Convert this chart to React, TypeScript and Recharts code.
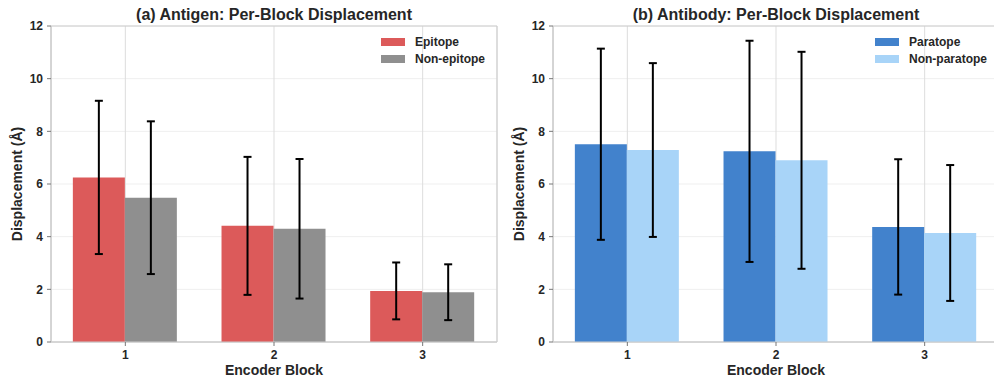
import React from "react";
import {
  BarChart,
  Bar,
  XAxis,
  YAxis,
  CartesianGrid,
  ErrorBar,
  Legend,
  ReferenceArea,
} from "recharts";

const blocks = ["1", "2", "3"];
const yTicks = [0, 2, 4, 6, 8, 10, 12];

const epitope = [6.25, 4.41, 1.94];
const epitopeErr = [2.91, 2.62, 1.08];
const nonEpitope = [5.48, 4.3, 1.89];
const nonEpitopeErr = [2.9, 2.65, 1.06];

const paratope = [7.51, 7.24, 4.37];
const paratopeErr = [3.63, 4.2, 2.57];
const nonParatope = [7.29, 6.9, 4.14];
const nonParatopeErr = [3.3, 4.12, 2.58];

const FONT = '"Liberation Sans", Arial, sans-serif';
const TEXT = "#262626";

type Series = { name: string; color: string; values: number[]; errs: number[] };

function buildRows(a: Series, b: Series) {
  return blocks.map((block, i) => ({
    block,
    a: a.values[i],
    aErr: a.errs[i],
    b: b.values[i],
    bErr: b.errs[i],
  }));
}

function LegendBox({ items }: { items: Series[] }) {
  return (
    <div style={{ fontFamily: FONT, fontWeight: 700, fontSize: 12, color: TEXT }}>
      {items.map((s) => (
        <div key={s.name} style={{ display: "flex", alignItems: "center", height: 17 }}>
          <span style={{ width: 24, height: 8, background: s.color, marginRight: 10 }} />
          <span>{s.name}</span>
        </div>
      ))}
    </div>
  );
}

function YLabel(props: any) {
  const { viewBox } = props;
  const x = viewBox.x + 17;
  const y = viewBox.y + viewBox.height / 2;
  return (
    <text
      x={x}
      y={y}
      transform={`rotate(-90, ${x}, ${y})`}
      textAnchor="middle"
      dominantBaseline="central"
      fontFamily={FONT}
      fontWeight={700}
      fontSize={14}
      fill={TEXT}
    >
      Displacement (Å)
    </text>
  );
}

function Panel({ title, a, b, left }: { title: string; a: Series; b: Series; left: number }) {
  const rows = buildRows(a, b);
  const tickStyle = { fontFamily: FONT, fontWeight: 700, fontSize: 12, fill: TEXT };
  return (
    <div style={{ position: "absolute", left, top: 0, width: 500, height: 378 }}>
      <div
        style={{
          position: "absolute",
          left: 51,
          top: 5,
          width: 446,
          textAlign: "center",
          fontFamily: FONT,
          fontWeight: 700,
          fontSize: 16,
          lineHeight: "20px",
          color: TEXT,
        }}
      >
        {title}
      </div>
      <BarChart
        width={500}
        height={378}
        data={rows}
        margin={{ top: 26, right: 3, bottom: 0, left: 0 }}
        barCategoryGap="14.7%"
        barGap={0}
      >
        <CartesianGrid horizontal={true} vertical={false} stroke="#efefef" />
        <CartesianGrid horizontal={false} vertical={true} stroke="#dddddd" />
        <XAxis
          dataKey="block"
          height={36}
          tickSize={4}
          tickMargin={4}
          tick={tickStyle}
          stroke="#cccccc"
          tickLine={{ stroke: "#777777" }}
          label={{
            value: "Encoder Block",
            position: "insideBottom",
            offset: 3,
            style: { fontFamily: FONT, fontWeight: 700, fontSize: 14, fill: TEXT },
          }}
        />
        <YAxis
          width={51}
          domain={[0, 12]}
          ticks={yTicks}
          interval={0}
          tickSize={4}
          tickMargin={4}
          tick={tickStyle}
          stroke="#cccccc"
          tickLine={{ stroke: "#777777" }}
          label={<YLabel />}
        />
        <Legend
          layout="vertical"
          align="center"
          verticalAlign="middle"
          wrapperStyle={{ top: 33, right: 15, left: "auto", width: "auto" }}
          content={() => <LegendBox items={[a, b]} />}
        />
        <Bar dataKey="a" name={a.name} fill={a.color} isAnimationActive={false}>
          <ErrorBar dataKey="aErr" width={4} strokeWidth={2} stroke="#000000" direction="y" />
        </Bar>
        <Bar dataKey="b" name={b.name} fill={b.color} isAnimationActive={false}>
          <ErrorBar dataKey="bErr" width={4} strokeWidth={2} stroke="#000000" direction="y" />
        </Bar>
        <ReferenceArea y1={0} y2={12} fill="none" stroke="#cccccc" ifOverflow="visible" />
      </BarChart>
    </div>
  );
}

export default function App() {
  return (
    <div
      style={{
        position: "absolute",
        left: 0,
        top: 0,
        width: 994,
        height: 378,
        overflow: "hidden",
        background: "#ffffff",
      }}
    >
      <Panel
        title="(a) Antigen: Per-Block Displacement"
        left={0}
        a={{ name: "Epitope", color: "#dc5a5a", values: epitope, errs: epitopeErr }}
        b={{ name: "Non-epitope", color: "#8f8f8f", values: nonEpitope, errs: nonEpitopeErr }}
      />
      <Panel
        title="(b) Antibody: Per-Block Displacement"
        left={502}
        a={{ name: "Paratope", color: "#4282cc", values: paratope, errs: paratopeErr }}
        b={{ name: "Non-paratope", color: "#a8d4f8", values: nonParatope, errs: nonParatopeErr }}
      />
    </div>
  );
}
